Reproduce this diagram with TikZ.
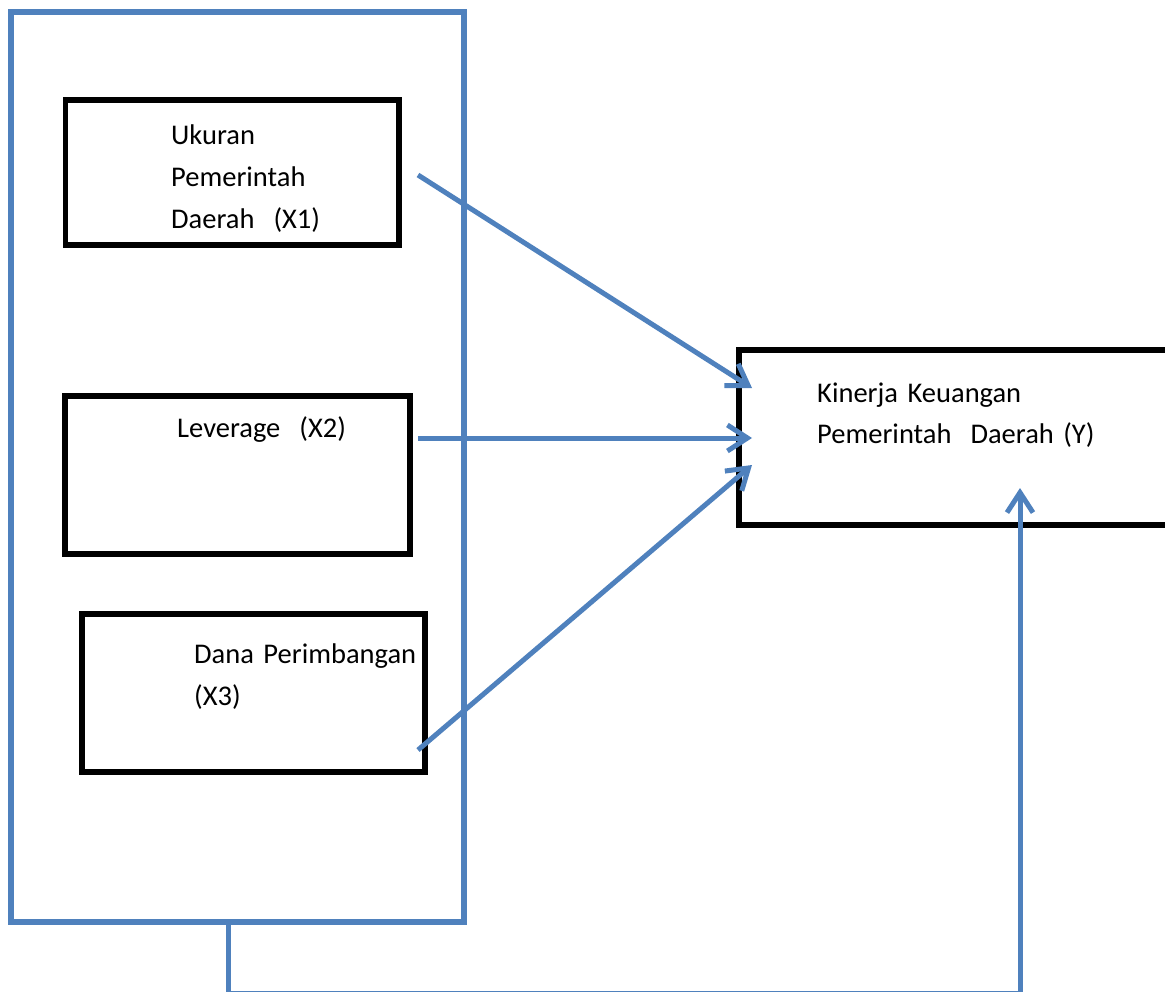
\documentclass[tikz,border=0pt]{standalone}
\usepackage{fontspec}
\setmainfont{Carlito}
\usetikzlibrary{arrows.meta,shadows}

\definecolor{ofblue}{HTML}{4F81BD}

\begin{document}
\begin{tikzpicture}[
  x=1pt, y=-1pt,
  font=\fontsize{28.5}{42}\selectfont,
  group/.style={draw=ofblue, line width=6.5pt, minimum width=453pt, minimum height=910pt,
    drop shadow={shadow xshift=2pt, shadow yshift=-3pt, opacity=0.25}, fill=white},
  var/.style={draw, line width=5.5pt, inner sep=0pt},
  txt/.style={anchor=base west, inner sep=0pt, align=left, text width=260pt},
  arr/.style={draw=ofblue, line width=5pt, -{Straight Barb[length=20pt,width=26pt]}}
]
\useasboundingbox (0,0) rectangle (1165,992);

\node[group] (frame) at (237.5,467) {};

\node[var, minimum width=333.5pt, minimum height=145pt] (x1) at (232,172.5) {};
\node[var, minimum width=345pt, minimum height=158pt] (x2) at (237.5,475) {};
\node[var, minimum width=343pt, minimum height=158pt] (x3) at (253.5,693) {};
\node[var, minimum width=446pt, minimum height=175pt] (y) at (962,437.5) {};

\node[txt] (x1txt) at (171,145) {Ukuran\\Pemerintah\\Daerah~ (X1)};
\node[txt] (x2txt) at (177,437) {Leverage~ (X2)};
\node[txt] (x3txt) at (194,663) {Dana Perimbangan\\(X3)};
\node[txt, text width=340pt] (ytxt) at (817,402) {Kinerja Keuangan\\Pemerintah~ Daerah (Y)};

% arrow ends
\coordinate (s1) at (418,175);
\coordinate (s2) at (418,438);
\coordinate (s3) at (418,750);
\coordinate (e1) at (752,388);
\coordinate (e2) at (752,438);
\coordinate (e3) at (752,465);
\coordinate (fb) at (228,922);
\coordinate (ey) at (1020,488);

\draw[arr] (s1) -- (e1);
\draw[arr] (s2) -- (e2);
\draw[arr] (s3) -- (e3);
\draw[arr] (fb) -- (228,993.5) -| (ey);

\end{tikzpicture}
\end{document}
